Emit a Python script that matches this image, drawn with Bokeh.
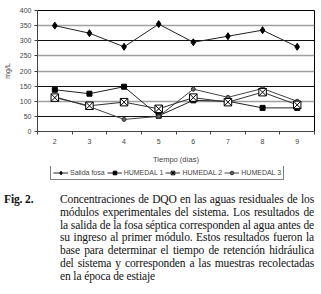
from bokeh.plotting import figure
from bokeh.models import (Range1d, FixedTicker, Grid, Legend, LegendItem, Div)
from bokeh.layouts import column
from bokeh.embed import file_html
from bokeh.resources import INLINE

days = [2, 3, 4, 5, 6, 7, 8, 9]
salida_fosa = [350, 325, 280, 355, 295, 315, 335, 280]
humedal1 = [138, 125, 148, 52, 103, 100, 78, 78]
humedal2 = [112, 85, 97, 75, 112, 97, 130, 88]
humedal3 = [115, 82, 40, 50, 140, 113, 142, 100]
series_names = ["Salida fosa", "HUMEDAL 1", "HUMEDAL 2", "HUMEDAL 3"]
y_ticks = [0, 50, 100, 150, 200, 250, 300, 350, 400]
dark_grid = [50, 150, 300, 400]
light_grid = [100, 200, 250, 350]

p = figure(width=315, height=166, output_backend="svg", toolbar_location=None,
           x_range=Range1d(1.5, 9.5), y_range=Range1d(0, 400),
           min_border_left=35, min_border_right=1, min_border_top=10,
           min_border_bottom=33)
p.outline_line_color = "black"
p.background_fill_color = "white"
p.border_fill_color = "white"

p.xgrid.grid_line_color = None
p.ygrid.grid_line_color = None
p.add_layout(Grid(dimension=1, ticker=FixedTicker(ticks=dark_grid),
                  grid_line_color="#111111", grid_line_width=1))
p.add_layout(Grid(dimension=1, ticker=FixedTicker(ticks=light_grid),
                  grid_line_color="#a0a0a0", grid_line_width=1.5))

p.xaxis.ticker = FixedTicker(ticks=days, minor_ticks=[d - 0.5 for d in days] + [9.5])
p.xaxis.major_tick_line_color = None
p.xaxis.minor_tick_out = 3
p.xaxis.minor_tick_in = 0
p.xaxis.minor_tick_line_color = "#444444"
p.xaxis.axis_line_color = "#444444"
p.xaxis.major_label_text_font = "Liberation Sans"
p.xaxis.major_label_text_font_size = "7px"
p.xaxis.major_label_standoff = 1
p.xaxis.axis_label = "Tiempo (días)"
p.xaxis.axis_label_text_font = "Liberation Sans"
p.xaxis.axis_label_text_font_size = "7.5px"
p.xaxis.axis_label_text_font_style = "normal"
p.xaxis.axis_label_standoff = 8

p.yaxis.ticker = FixedTicker(ticks=y_ticks)
p.yaxis.minor_tick_line_color = None
p.yaxis.major_tick_out = 3
p.yaxis.major_tick_in = 0
p.yaxis.major_tick_line_color = "#444444"
p.yaxis.axis_line_color = "#444444"
p.yaxis.major_label_text_font = "Liberation Sans"
p.yaxis.major_label_text_font_size = "7px"
p.yaxis.major_label_standoff = 3
p.yaxis.axis_label = "mg/L"
p.yaxis.axis_label_text_font = "Liberation Sans"
p.yaxis.axis_label_text_font_size = "7px"
p.yaxis.axis_label_text_font_style = "normal"
p.yaxis.axis_label_standoff = 6

styles = [
    dict(line_color="#222222", marker="diamond", size=7, fill_color="black", mline="black"),
    dict(line_color="#222222", marker="square", size=5, fill_color="black", mline="black"),
    dict(line_color="#333333", marker="square_x", size=7.5, fill_color="white", mline="black"),
    dict(line_color="#444444", marker="circle", size=4, fill_color="#666666", mline="#333333"),
]
series = [salida_fosa, humedal1, humedal2, humedal3]
order = [0, 1, 3, 2]
for i in order:
    s = styles[i]
    p.line(days, series[i], line_color=s["line_color"], line_width=1)
    p.scatter(days, series[i], marker=s["marker"], size=s["size"],
              fill_color=s["fill_color"], line_color=s["mline"])

# legend strip (its proxy series lie outside its visible range)
lg = figure(width=315, height=18, output_backend="svg", toolbar_location=None,
            x_range=Range1d(-1, 0), y_range=Range1d(-1, 0),
            x_axis_type=None, y_axis_type=None,
            min_border_left=0, min_border_right=0, min_border_top=0, min_border_bottom=0)
lg.grid.grid_line_color = None
lg.outline_line_color = None
lg.background_fill_color = "white"
lg.border_fill_color = "white"
items = []
for i, name in enumerate(series_names):
    s = styles[i]
    lr = lg.line(days, series[i], line_color=s["line_color"], line_width=1)
    mr = lg.scatter(days, series[i], marker=s["marker"], size=s["size"],
                    fill_color=s["fill_color"], line_color=s["mline"])
    items.append(LegendItem(label=name, renderers=[lr, mr]))
legend = Legend(items=items, orientation="horizontal", location=(13, 4))
legend.label_text_font = "Liberation Sans"
legend.label_text_font_size = "7px"
legend.glyph_width = 15
legend.glyph_height = 9
legend.label_standoff = 2
legend.spacing = 2
legend.padding = 2
legend.margin = 0
legend.label_height = 9
legend.border_line_color = "black"
legend.border_line_width = 1
legend.background_fill_color = "white"
lg.add_layout(legend, "center")

caption_lines = [
    "Concentraciones de DQO en las aguas residuales de los",
    "módulos experimentales del sistema. Los resultados de",
    "la salida de la fosa séptica corresponden al agua antes de",
    "su ingreso al primer módulo. Estos resultados fueron la",
    "base para determinar el tiempo de retención hidráulica",
    "del sistema y corresponden a las muestras recolectadas",
    "en la época de estiaje",
]
serif = "'Liberation Serif', 'Times New Roman', 'DejaVu Serif', serif"
rows = []
for i, t in enumerate(caption_lines):
    last = i == len(caption_lines) - 1
    rows.append('<div style="text-align:justify;text-align-last:%s;white-space:nowrap;font-family:%s;">%s</div>'
                % ("left" if last else "justify", serif, t))
html = ('<div style="position:relative;font-family:%s;font-size:11.5px;letter-spacing:-0.12px;'
        'line-height:12.8px;color:#111;width:318px;padding-top:9px;">'
        '<div style="position:absolute;left:4px;top:9px;font-weight:bold;font-family:%s;">Fig. 2.</div>'
        '<div style="margin-left:60px;width:254px;">' % (serif, serif) + "".join(rows) + '</div></div>')
cap = Div(text=html, width=318, height=110, margin=(0, 0, 0, 0),
          styles={"font-family": serif, "font-size": "11.5px"})

layout = column(p, lg, cap, spacing=0)
open("out.html", "w").write(file_html(layout, INLINE))
